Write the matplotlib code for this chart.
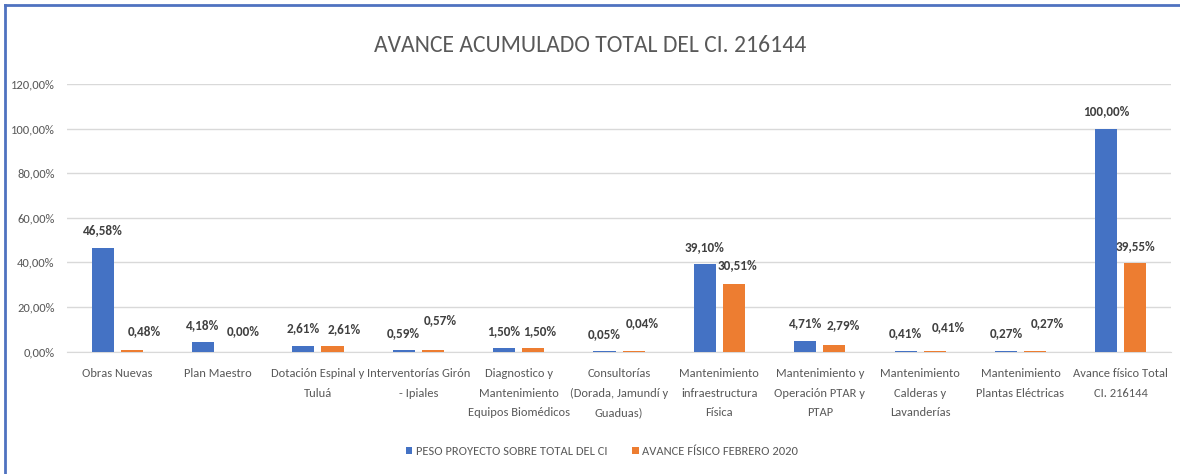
import numpy as np
import matplotlib
matplotlib.use("Agg")
import matplotlib.pyplot as plt
from matplotlib.lines import Line2D
from matplotlib.ticker import FuncFormatter

plt.rcParams['font.family'] = ['Carlito', 'Archivo Narrow', 'DejaVu Sans']

categorias = [
    "Obras Nuevas",
    "Plan Maestro",
    "Dotación Espinal y\nTuluá",
    "Interventorías Girón\n- Ipiales",
    "Diagnostico y\nMantenimiento\nEquipos Biomédicos",
    "Consultorías\n(Dorada, Jamundí y\nGuaduas)",
    "Mantenimiento\ninfraestructura\nFísica",
    "Mantenimiento y\nOperación PTAR y\nPTAP",
    "Mantenimiento\nCalderas y\nLavanderías",
    "Mantenimiento\nPlantas Eléctricas",
    "Avance físico Total\nCI. 216144",
]
peso = [46.58, 4.18, 2.61, 0.59, 1.50, 0.05, 39.10, 4.71, 0.41, 0.27, 100.00]
avance = [0.48, 0.00, 2.61, 0.57, 1.50, 0.04, 30.51, 2.79, 0.41, 0.27, 39.55]
nombres = ["PESO PROYECTO SOBRE TOTAL DEL CI", "AVANCE FÍSICO FEBRERO 2020"]

# desplazamiento de las etiquetas naranjas como en Excel (px: dx, dy)
ajuste_dx = [13, 11, 12, 7, 6.5, 9, 3, 8.5, 13.5, 12.5, 0]
ajuste_dy = [19, 20, 17, 30, 17.5, 28, 18, 20, 24, 28, 17]

azul = "#4472C4"
naranja = "#ED7D31"
gris = "#595959"
px = 0.72  # px -> pt a 100 dpi

fig = plt.figure(figsize=(11.8, 4.74), dpi=100)
ax = fig.add_axes([0.0568, 0.2584, 0.9356, 0.5644])

x = np.arange(len(categorias))
w = 0.22
b1 = ax.bar(x - 0.145, peso, w, color=azul, label=nombres[0], zorder=3)
b2 = ax.bar(x + 0.145, avance, w, color=naranja, label=nombres[1], zorder=3)

def pct(v):
    return f"{v:.2f}%".replace(".", ",")

for r, v in zip(b1, peso):
    ax.annotate(pct(v), (r.get_x() + r.get_width() / 2, v),
                xytext=(0, 17.5 * px), textcoords="offset points",
                ha="center", va="center", fontsize=9.5,
                fontweight="bold", color="#404040", zorder=4)
for r, v, dx, dy in zip(b2, avance, ajuste_dx, ajuste_dy):
    ax.annotate(pct(v), (r.get_x() + r.get_width() / 2, v),
                xytext=(dx * px, dy * px), textcoords="offset points",
                ha="center", va="center", fontsize=9.5,
                fontweight="bold", color="#404040", zorder=4)

ax.set_xlim(-0.5, len(categorias) - 0.5)
ax.set_ylim(0, 120)
ax.set_yticks(np.arange(0, 121, 20))
ax.yaxis.set_major_formatter(FuncFormatter(lambda v, p: pct(v)))
ax.set_xticks(x)
ax.set_xticklabels(categorias, fontsize=9, color=gris, linespacing=1.95, va="top")
ax.tick_params(axis="x", length=0, pad=12)
ax.tick_params(axis="y", length=0, pad=9, labelsize=9, labelcolor=gris)
ax.grid(axis="y", color="#d9d9d9", linewidth=1, zorder=0)
for s in ["top", "right", "left"]:
    ax.spines[s].set_visible(False)
ax.spines["bottom"].set_color("#d9d9d9")

fig.text(0.5, 0.905, "AVANCE ACUMULADO TOTAL DEL CI. 216144",
         ha="center", va="center", fontsize=17, color=gris)

fig.legend(loc="center", bbox_to_anchor=(0.51, 0.048), ncol=2, frameon=False,
           fontsize=9, handlelength=0.55, handleheight=0.55, handletextpad=0.25,
           columnspacing=2.0, labelcolor=gris)

# marco azul (solo arriba e izquierda visibles)
fig.add_artist(Line2D([0.0042, 1], [1 - 5 / 474, 1 - 5 / 474], transform=fig.transFigure,
                      color="#4f72c0", linewidth=2))
fig.add_artist(Line2D([5 / 1180, 5 / 1180], [0, 1 - 5 / 474], transform=fig.transFigure,
                      color="#4f72c0", linewidth=2))

fig.savefig("out.png", dpi=100)
